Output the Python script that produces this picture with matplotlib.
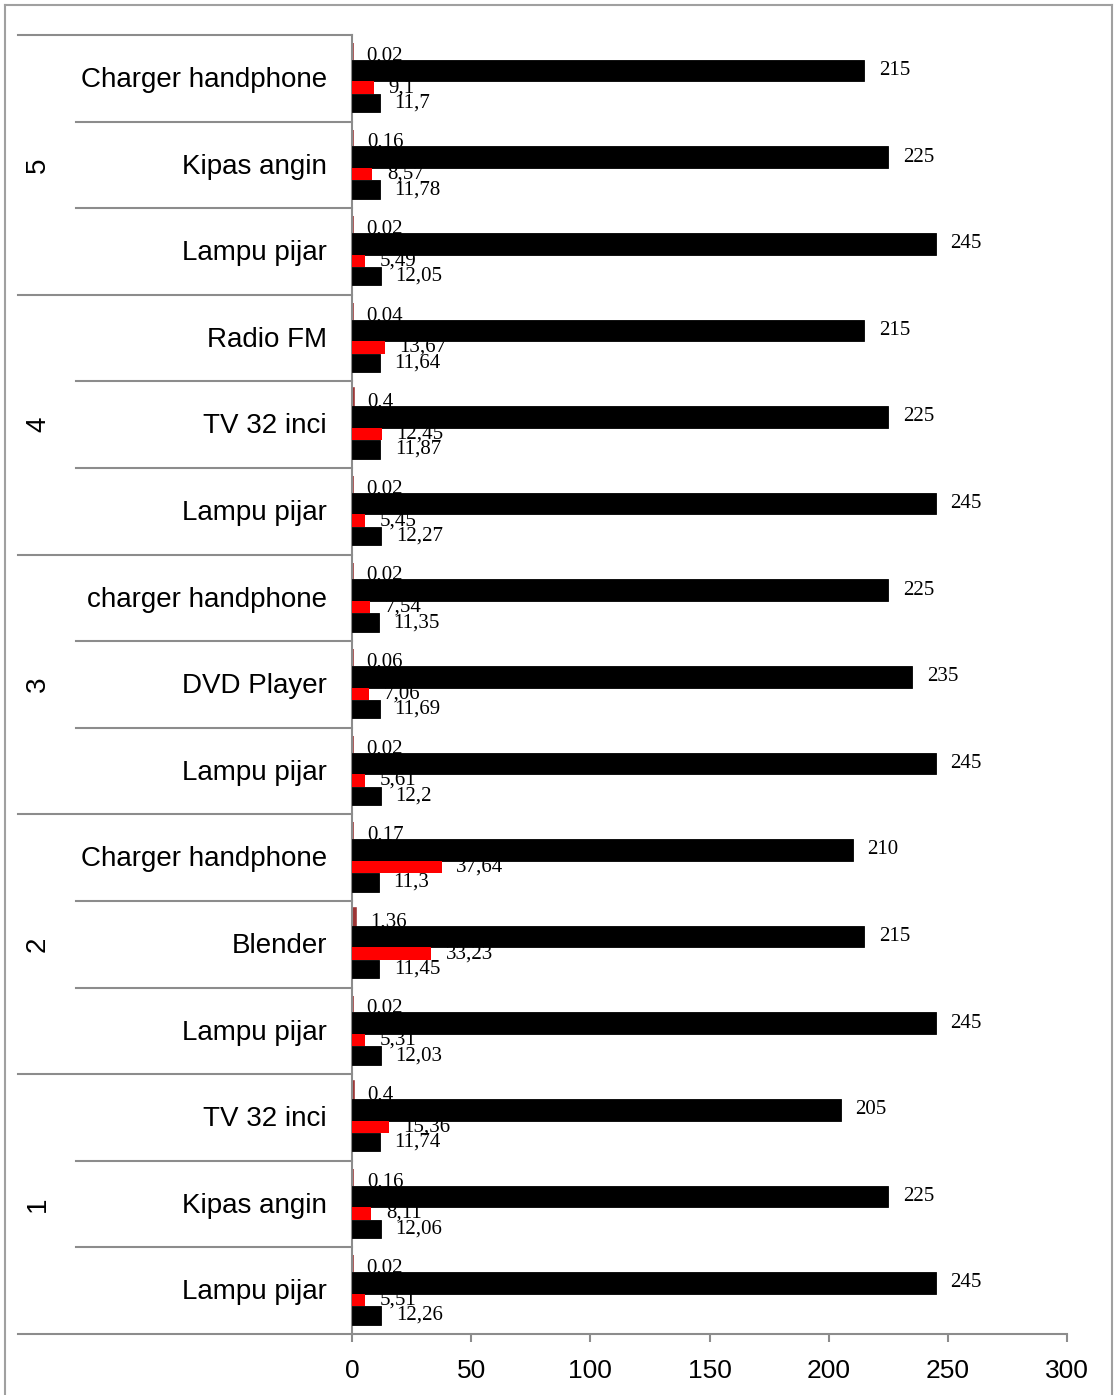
import matplotlib
matplotlib.use("Agg")
import matplotlib.pyplot as plt
from matplotlib.lines import Line2D
import matplotlib.transforms as mtransforms

# ---- data (top to bottom) ----
groups = ["5", "4", "3", "2", "1"]
categories = [
    "Charger handphone", "Kipas angin", "Lampu pijar",
    "Radio FM", "TV 32 inci", "Lampu pijar",
    "charger handphone", "DVD Player", "Lampu pijar",
    "Charger handphone", "Blender", "Lampu pijar",
    "TV 32 inci", "Kipas angin", "Lampu pijar",
]
series_a = [0.02, 0.16, 0.02, 0.04, 0.4, 0.02, 0.02, 0.06, 0.02, 0.17, 1.36, 0.02, 0.4, 0.16, 0.02]
series_b = [215, 225, 245, 215, 225, 245, 225, 235, 245, 210, 215, 245, 205, 225, 245]
series_c = [9.1, 8.57, 5.49, 13.67, 12.45, 5.45, 7.54, 7.06, 5.61, 37.64, 33.23, 5.31, 15.36, 8.11, 5.51]
series_d = [11.7, 11.78, 12.05, 11.64, 11.87, 12.27, 11.35, 11.69, 12.2, 11.3, 11.45, 12.03, 11.74, 12.06, 12.26]
x_ticks = [0, 50, 100, 150, 200, 250, 300]

W, H = 1115, 1395
fig = plt.figure(figsize=(W / 100, H / 100), dpi=100)
fig.patch.set_facecolor("white")

left_px, right_px, top_px, bottom_px = 352, 1067, 35, 1334
ax = fig.add_axes([left_px / W, 1 - bottom_px / H,
                   (right_px - left_px) / W, (bottom_px - top_px) / H])

n = len(categories)
pos = list(range(n))
grey = "#8C8C8C"
brown = "#9C3434"

# (values, colour, centre offset, bar height, edge width, zorder, label nudge)
series = [
    (series_a, brown, -0.31, 0.195, 2.6, 2, 0.05),
    (series_b, "black", -0.089, 0.248, 0.6, 3, 0.0),
    (series_c, "#FF0000", 0.1075, 0.145, 0.0, 3, 0.0),
    (series_d, "black", 0.286, 0.213, 0.6, 4, 0.0),
]

for vals, col, off, h, lw, z, nudge in series:
    ys = [p + off for p in pos]
    ax.barh(ys, vals, height=h, color=col, edgecolor=col, linewidth=lw, zorder=z)
    for y, v in zip(ys, vals):
        ax.annotate(f"{v:g}".replace(".", ","), xy=(v, y + nudge),
                    xytext=(10.5, 0), textcoords="offset points",
                    ha="left", va="center", fontsize=15,
                    family=["Liberation Serif", "DejaVu Serif"],
                    zorder=2.5, annotation_clip=False)

ax.set_xlim(0, 300)
ax.set_ylim(n - 0.5, -0.5)
ax.set_xticks(x_ticks)
ax.set_xticklabels([str(t) for t in x_ticks],
                   family=["Liberation Sans Narrow", "Liberation Sans", "DejaVu Sans"],
                   fontsize=19)
ax.set_yticks([])
ax.tick_params(axis="x", direction="out", length=6, width=1.5, color=grey, pad=12)
for s in ("top", "right"):
    ax.spines[s].set_visible(False)
for s in ("left", "bottom"):
    ax.spines[s].set_color(grey)
    ax.spines[s].set_linewidth(1.5)

# category axis: multi-level labels and separators
trans = mtransforms.blended_transform_factory(ax.transAxes, ax.transData)
x_sub = (76 - left_px) / (right_px - left_px)
x_grp = (18 - left_px) / (right_px - left_px)
x_lab = (327 - left_px) / (right_px - left_px)
x_glab = (38 - left_px) / (right_px - left_px)

for i, cat in enumerate(categories):
    ax.text(x_lab, i + 0.02, cat, transform=trans, ha="right", va="center",
            fontsize=20, family=["Liberation Sans", "DejaVu Sans"])
for b in range(n + 1):
    xs = x_grp if b % 3 == 0 else x_sub
    ax.add_line(Line2D([xs, 0], [b - 0.5, b - 0.5], transform=trans,
                       color=grey, linewidth=1.5, clip_on=False))
for g, name in enumerate(groups):
    ax.text(x_glab, g * 3 + 1, name, transform=trans, ha="center", va="center",
            rotation=90, fontsize=20,
            family=["Liberation Sans Narrow", "Liberation Sans", "DejaVu Sans"])

# outer frame
fx = lambda px: px / W
fy = lambda py: 1 - py / H
for xs, ys in [([5, 5], [5, H + 5]), ([5, 1112], [5, 5]), ([1112, 1112], [5, H + 5])]:
    fig.add_artist(Line2D([fx(v) for v in xs], [fy(v) for v in ys],
                          transform=fig.transFigure, color="#A0A0A0", linewidth=1.5))

fig.savefig("out.png", dpi=100)
